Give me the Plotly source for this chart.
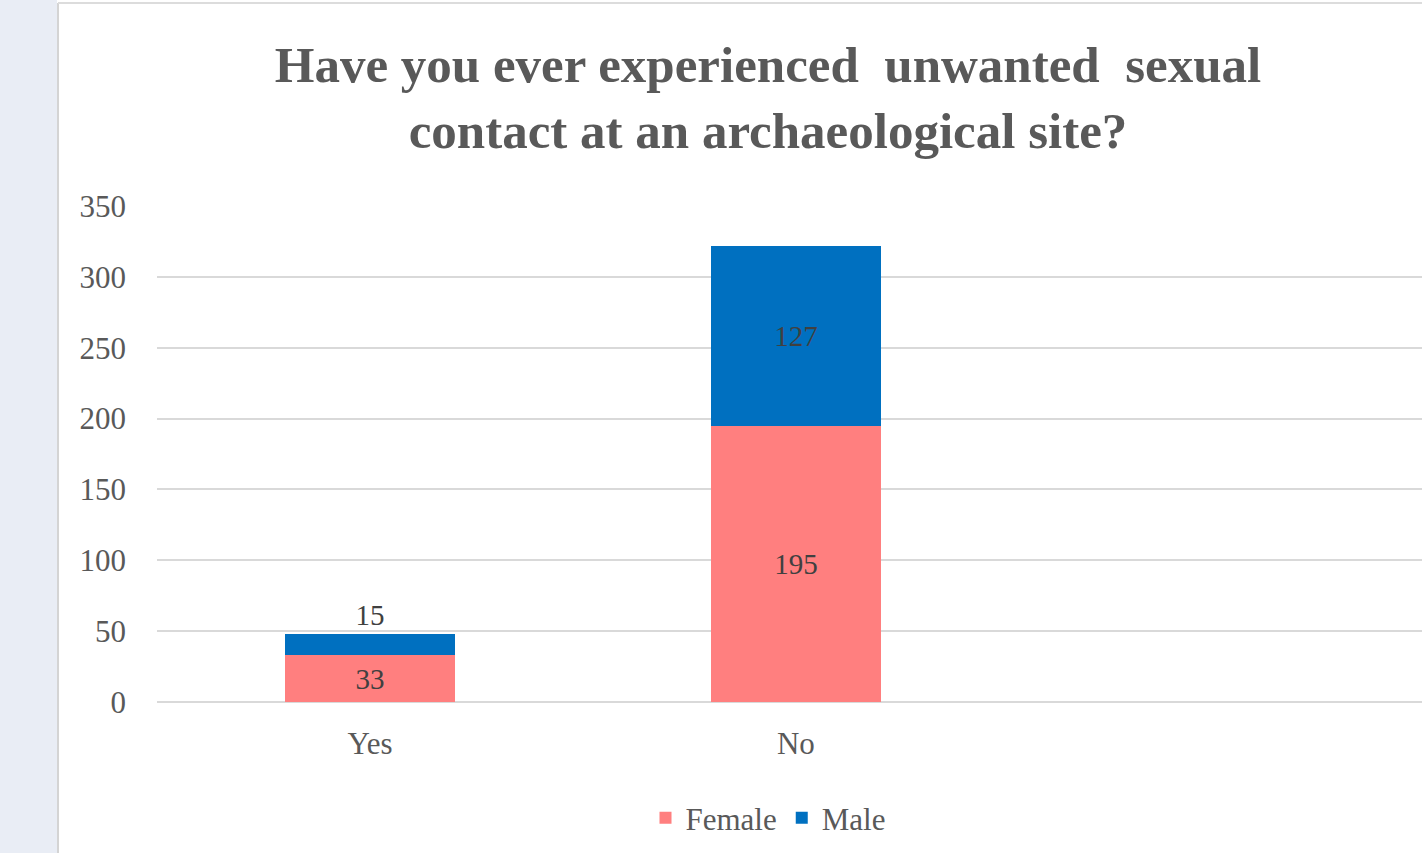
import plotly.graph_objects as go

categories = ["Yes", "No"]
female = [33, 195]
male = [15, 127]
y_ticks = [0, 50, 100, 150, 200, 250, 300, 350]

W, H = 1422, 853
L, R, T, B = 157, 0, 206, 151
pw, ph = W - L - R, H - T - B


def px_x(x):
    return (x - L) / pw


def px_y(y):
    return (H - B - y) / ph


serif = "Liberation Serif"
label_font = dict(family=serif, size=29, color="#404040")

fig = go.Figure()
fig.add_trace(
    go.Bar(
        x=categories,
        y=female,
        name="Female",
        marker=dict(color="#FF7F7F", line=dict(width=0)),
        text=female,
        textposition="inside",
        insidetextanchor="middle",
        textfont=label_font,
    )
)
fig.add_trace(
    go.Bar(
        x=categories,
        y=male,
        name="Male",
        marker=dict(color="#0070C0", line=dict(width=0)),
        text=male,
        textposition=["outside", "inside"],
        insidetextanchor="middle",
        textfont=label_font,
    )
)

shapes = [
    # left grey strip of the surrounding window
    dict(type="rect", xref="paper", yref="paper", x0=px_x(0), x1=px_x(57), y0=px_y(H), y1=px_y(0),
         fillcolor="#E9EDF5", line=dict(width=0), layer="below"),
    dict(type="line", xref="paper", yref="paper", x0=px_x(58), x1=px_x(58), y0=px_y(H), y1=px_y(3),
         line=dict(color="#D4D4D4", width=2)),
    dict(type="line", xref="paper", yref="paper", x0=px_x(58), x1=px_x(W), y0=px_y(3), y1=px_y(3),
         line=dict(color="#DCDCDC", width=2)),
]

fig.update_layout(
    width=W,
    height=H,
    margin=dict(l=L, r=R, t=T, b=B),
    paper_bgcolor="white",
    plot_bgcolor="white",
    barmode="stack",
    bargap=0.6,
    title=dict(
        text="Have you ever experienced  unwanted  sexual<br>contact at an archaeological site?",
        font=dict(family=serif, size=51, color="#595959", weight="bold"),
        x=px_x(768),
        xref="paper",
        xanchor="center",
        y=1 - 82 / H,
        yanchor="top",
    ),
    xaxis=dict(
        range=[-0.5, 2.47],
        showgrid=False,
        showline=False,
        ticks="",
        tickfont=dict(family=serif, size=31, color="#595959"),
        ticklabelstandoff=20,
    ),
    yaxis=dict(
        range=[0, 350],
        tickvals=y_ticks,
        showgrid=True,
        gridcolor="#D9D9D9",
        gridwidth=2,
        zeroline=True,
        zerolinecolor="#D9D9D9",
        zerolinewidth=2,
        showline=False,
        ticks="",
        tickfont=dict(family=serif, size=31, color="#595959"),
        ticklabelstandoff=30,
    ),
    legend=dict(
        orientation="h",
        x=px_x(768),
        xanchor="center",
        y=px_y(818),
        yanchor="middle",
        font=dict(family=serif, size=31, color="#595959"),
        itemwidth=30,
        traceorder="normal",
    ),
    shapes=shapes,
)

fig.write_html(
    "out.html",
    config={"displayModeBar": False},
    post_script="document.body.style.margin='0';",
)
